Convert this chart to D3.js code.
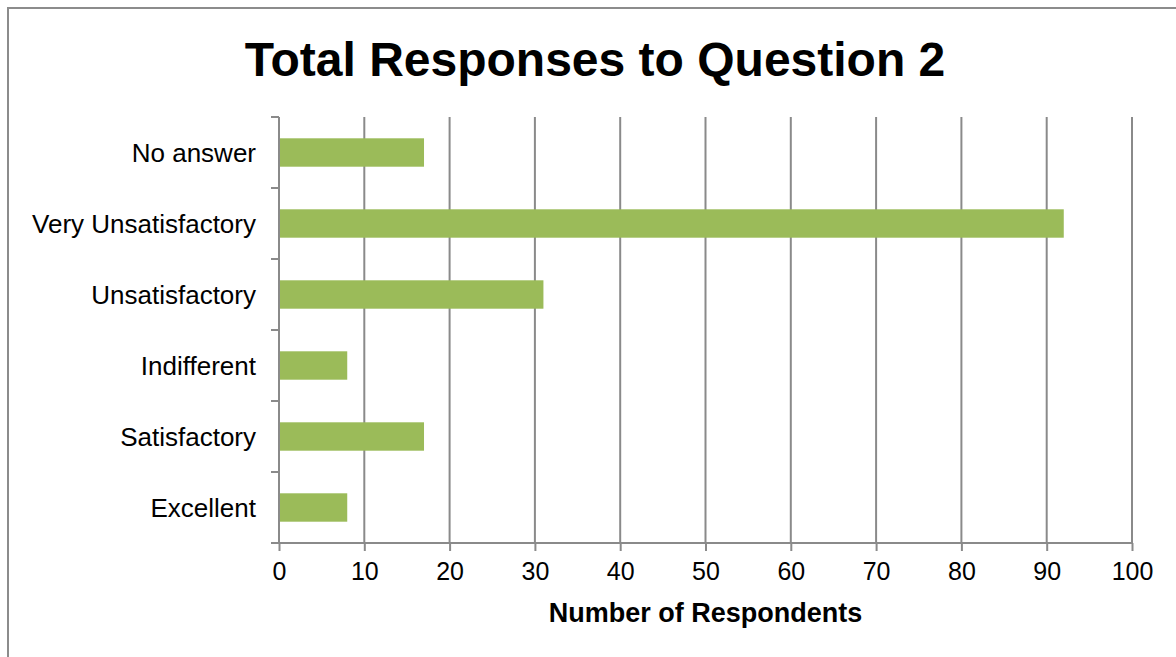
<!DOCTYPE html>
<html>
<head>
<meta charset="utf-8">
<script src="https://cdn.jsdelivr.net/npm/d3@7"></script>
<style>
  body { margin: 0; background: #fff; }
  text { font-family: "Liberation Sans", Arial, sans-serif; }
</style>
</head>
<body>
<div id="viz"></div>
<script>
// data
var categories = ["No answer", "Very Unsatisfactory", "Unsatisfactory", "Indifferent", "Satisfactory", "Excellent"];
var values = [17, 92, 31, 8, 17, 8];
var xTicks = [0, 10, 20, 30, 40, 50, 60, 70, 80, 90, 100];

var W = 1176, H = 657;
var plotLeft = 279, plotRight = 1132, plotTop = 117, plotBottom = 543;

var svg = d3.select("#viz").append("svg")
    .attr("width", W)
    .attr("height", H);

// outer border of the chart area
svg.append("rect")
    .attr("x", 8).attr("y", 8)
    .attr("width", W + 10).attr("height", H + 10)
    .attr("fill", "#fff")
    .attr("stroke", "#8c8c8c")
    .attr("stroke-width", 2);

var x = d3.scaleLinear().domain([0, 100]).range([plotLeft, plotRight]);
var y = d3.scaleBand().domain(categories).range([plotTop, plotBottom]).paddingInner(0.6).paddingOuter(0.3);
var yBand = d3.scaleBand().domain(categories).range([plotTop, plotBottom]);

// vertical gridlines
svg.selectAll("line.grid")
    .data(xTicks.slice(1))
    .enter()
    .append("line")
    .attr("class", "grid")
    .attr("x1", function(d){ return x(d); })
    .attr("x2", function(d){ return x(d); })
    .attr("y1", plotTop)
    .attr("y2", plotBottom)
    .attr("stroke", "#8a8a8a")
    .attr("stroke-width", 2);

// bars
svg.selectAll("rect.bar")
    .data(values)
    .enter()
    .append("rect")
    .attr("class", "bar")
    .attr("x", x(0))
    .attr("y", function(d, i){ return y(categories[i]); })
    .attr("width", function(d){ return x(d) - x(0); })
    .attr("height", y.bandwidth())
    .attr("fill", "#9bbb59");

// x axis
var xAxis = svg.append("g")
    .attr("transform", "translate(0," + plotBottom + ")")
    .call(d3.axisBottom(x).tickValues(xTicks).tickSize(8).tickPadding(11));
xAxis.select(".domain").attr("stroke", "#8a8a8a").attr("stroke-width", 2)
    .attr("d", "M" + (plotLeft - 8) + ",0H" + plotRight);
xAxis.selectAll(".tick line").attr("stroke", "#8a8a8a").attr("stroke-width", 2);
xAxis.selectAll("text")
    .attr("fill", "#000")
    .style("font-size", "25px")
    .style("font-family", "Liberation Sans, Arial, sans-serif");

// y axis (ticks at band boundaries)
svg.append("line")
    .attr("x1", plotLeft).attr("x2", plotLeft)
    .attr("y1", plotTop).attr("y2", plotBottom)
    .attr("stroke", "#8a8a8a").attr("stroke-width", 2);
var bounds = categories.map(function(c){ return yBand(c); }).concat([plotBottom]);
svg.selectAll("line.ytick")
    .data(bounds)
    .enter()
    .append("line")
    .attr("class", "ytick")
    .attr("x1", plotLeft - 8).attr("x2", plotLeft)
    .attr("y1", function(d){ return d; })
    .attr("y2", function(d){ return d; })
    .attr("stroke", "#8a8a8a").attr("stroke-width", 2);
svg.selectAll("text.cat")
    .data(categories)
    .enter()
    .append("text")
    .attr("class", "cat")
    .attr("x", plotLeft - 23)
    .attr("y", function(d){ return yBand(d) + yBand.bandwidth() / 2; })
    .attr("dy", "0.35em")
    .attr("text-anchor", "end")
    .style("font-size", "26px")
    .text(function(d){ return d; });

// titles
svg.append("text")
    .attr("x", 595)
    .attr("y", 76)
    .attr("text-anchor", "middle")
    .style("font-size", "48px")
    .attr("font-weight", "bold")
    .text("Total Responses to Question 2");

svg.append("text")
    .attr("x", (plotLeft + plotRight) / 2)
    .attr("y", 622)
    .attr("text-anchor", "middle")
    .style("font-size", "27px")
    .attr("font-weight", "bold")
    .text("Number of Respondents");
</script>
</body>
</html>
